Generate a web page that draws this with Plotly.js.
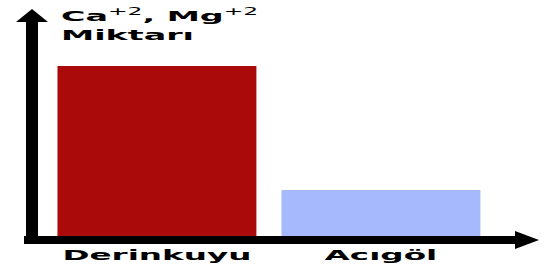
<!DOCTYPE html>
<html>
<head>
<meta charset="utf-8">
<script src="https://cdn.plot.ly/plotly-3.0.1.min.js"></script>
<style>
  html, body { margin: 0; padding: 0; background: #ffffff; }
  #chart { width: 547px; height: 267px; }
</style>
</head>
<body>
<div id="chart"></div>
<script>
// ---- data ----
const categories = ["Derinkuyu", "Acıgöl"];
const values = [100, 27.5];
const barColors = ["#aa0a0a", "#a6b9fc"];
const yLabel = 'Ca<sup><span style="font-weight:normal">+2</span></sup>, Mg<sup><span style="font-weight:normal">+2</span></sup><br>Miktarı';

// ---- layout helpers (pixel -> paper) ----
const W = 547, H = 267;
const M = { l: 40, r: 7, t: 10, b: 30 };
const PW = W - M.l - M.r, PH = H - M.t - M.b;
const px = x => (x - M.l) / PW;
const py = y => (H - M.b - y) / PH;
function path(pts) {
  return 'M' + pts.map(p => px(p[0]).toFixed(5) + ',' + py(p[1]).toFixed(5)).join(' L') + ' Z';
}

const yArrow = path([[26, 244], [26, 22], [16, 22], [32, 9], [48, 22], [38, 22], [38, 244]]);
const xArrow = path([[24, 236], [515, 236], [515, 231], [539, 240], [515, 249], [515, 244], [24, 244]]);

const trace = {
  type: 'bar',
  x: categories,
  y: values,
  marker: { color: barColors, line: { width: 0 } },
  hoverinfo: 'none'
};

const font = { family: 'DejaVu Sans, Verdana, sans-serif', color: '#000000' };

const layout = {
  width: W, height: H,
  margin: M,
  paper_bgcolor: '#ffffff',
  plot_bgcolor: '#ffffff',
  showlegend: false,
  bargap: 0.112,
  font: font,
  xaxis: {
    type: 'category',
    range: [-0.522, 1.710],
    showline: false, showgrid: false, zeroline: false,
    ticks: '', ticklabelstandoff: 8,
    tickfont: { family: font.family, size: 14.5, weight: 'bold', color: '#000' },
    fixedrange: true
  },
  yaxis: {
    range: [0, 132.7],
    showline: false, showgrid: false, zeroline: false,
    showticklabels: false, ticks: '',
    fixedrange: true
  },
  shapes: [
    { type: 'path', xref: 'paper', yref: 'paper', path: yArrow, fillcolor: '#000', line: { width: 0 } },
    { type: 'path', xref: 'paper', yref: 'paper', path: xArrow, fillcolor: '#000', line: { width: 0 } }
  ],
  annotations: [{
    xref: 'paper', yref: 'paper',
    x: px(59), y: py(4),
    xanchor: 'left', yanchor: 'top', align: 'left',
    showarrow: false,
    text: yLabel,
    font: { family: font.family, size: 14.5, weight: 'bold', color: '#000' }
  }]
};

function stretch(sel, s, anchor) {
  document.querySelectorAll(sel).forEach(el => {
    const b = el.getBBox();
    const cx = anchor === 'left' ? b.x : b.x + b.width / 2;
    const t = el.getAttribute('transform') || '';
    el.setAttribute('transform', t + ' translate(' + cx + ',0) scale(' + s + ',1) translate(' + (-cx) + ',0)');
  });
}

Plotly.newPlot('chart', [trace], layout, { staticPlot: true, displayModeBar: false }).then(() => {
  stretch('#chart .xtick text', 2.25, 'center');
  stretch('#chart .annotation-text', 2.3, 'left');
});
</script>
</body>
</html>
